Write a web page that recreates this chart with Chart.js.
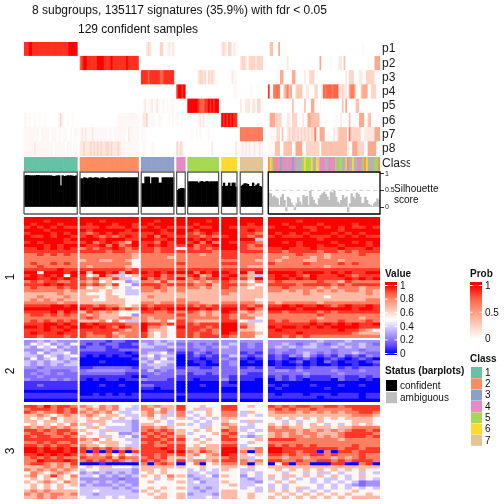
<!DOCTYPE html>
<html><head><meta charset="utf-8">
<style>html,body{margin:0;padding:0;background:#fff}canvas{display:block}</style>
<script src="https://cdn.jsdelivr.net/npm/chart.js@4"></script>
</head><body><canvas id="c" width="504" height="504"></canvas>
<script>
// ---------- data ----------
const titleLines = ["8 subgroups, 135117 signatures (35.9%) with fdr < 0.05", "129 confident samples"];
const panelSizes = [31,34,19,5,18,9,13,65];
const heatGroups = [8,9,5,1,5,2,3,16];
const probNames = ["p1","p2","p3","p4","p5","p6","p7","p8"];
const probLevels = [0,.04,.12,.22,.32,.45,.65,.75,.88,1];
const heatLevels = [0,.08,.18,.26,.37,.52,.68,.82,.93,1];
const classColors = ["#B3B3B3","#66C2A5","#FC8D62","#8DA0CB","#E78AC3","#A6D854","#FFD92F","#E5C494"];
const ambiguousClasses = "26542441444044340000565556006744400444450550072006004405260000552";
const probRows = [
"88899.88888.88888.88888.88888.89999.9 - 00023.20000.03300.1212 - - 232033021 - 04400.05000.00000.00000.00000.00000.00000.00000.00000.00000.00000.10000.00000",
"- 78998.88888.99998.88898.88888.88988.8888 - - - - 23320.33332.333 00000.00000.02000.00000.00000.00000.50000.01000.02204.00000.00000.00010.00555",
"- - 88887.88888.87788.8888 - 00000.02332.30323.210 000000211 - 00000.10550.00005.50000.02003.33000.00000.00000.00000.20333.00022.00333.33000",
"- - - 89989 - 000000011 0000001 80066.76004.56450.03434.00220.00330.02767.77677.72232.20566.50004.55500.33300",
"- - 01201.12012.10110.1011 - 99999.98777.88989.899 - 20022.20220.330 00000.00000.00004.00000.04000.55000.10000.00000.00040.50000.04400.00000.00000",
"11010.01001.00100.00000.13100.10010.0 00000.00000.00000.00000.00111.11111.1111 02230.11100.11000.0101 00010 00000.01212.01000.000 989898988 - 05553.33300.02203.33000.20055.44444.00010.00001.00200.00400.00055.50044.00000",
"11111.11110.11111.01110.11011.00101.1 12121.11211.11111.10110.11111.11021.1111 10100.00000.00000.0000 00000 00100.10100.00100.000 000000000 66666.66666.666 01110.33040.02323.32323.23232.32620.55500.00020.24444.40633.33330.02222.22555",
"11111.12111.11111.11011.11110.11101.1 22322.23232.32322.33232.22321.11111.1111 01100.01100.00000.0000 31320 00000.00000.00002.000 000000002 12121.21121.121 11104.44004.44440.05555.00333.33333.04444.44444.44444.42005.55333.30055.55500"
];
const silConfident = [
[.94,.95,.95,.94,.94,.94,.94,.95,.95,.94,.94,.94,.94,.94,.94,.94,.93,.92,.93,.94,.94,.64,.94,.92,.93,.94,.94,.94,.93,.92,.94],
[.85,.85,.88,.87,.85,.88,.88,.86,.88,.88,.87,.85,.88,.88,.86,.86,.88,.88,.87,.88,.88,.88,.87,.88,.88,.88,.88,.88,.88,.88,.88,.88,.88,.88],
[.7,.7,.9,.9,.9,.7,.88,.88,.88,.88,.72,.72,.88,.88,.88,.88,.88,.88,.88],
[.5,.54,.56,.56,.55],
[.76,.76,.76,.76,.76,.76,.72,.76,.77,.74,.76,.77,.75,.76,.76,.76,.76,.76],
[.62,.72,.62,.63,.72,.62,.72,.72,.6],
[.62,.66,.7,.7,.68,.62,.62,.72,.62,.66,.7,.62,.6]
];
const silAmbiguous = [.42,.4,.3,.33,.28,.25,.05,.3,.38,.2,-.12,.3,.25,.12,.05,-.08,.1,.28,.15,.05,.35,.3,.32,.05,.48,.3,.2,.1,.05,.25,.35,.4,.45,.38,.3,.2,.45,.42,.47,.3,.15,.1,.2,.35,.25,.3,-.15,.1,.4,.3,.25,.42,.38,.3,.1,.12,.3,.2,.08,.05,.02,.1,.15,.25,.2];
const silTicks = [0,0.5,1];
const heat1 = [
"99999999 999999999 99999 9 99999 99 999 9999999999999999",
"99989999 999899999 99899 9 99989 99 999 9999899999999999",
"98999899 989998998 98999 9 98999 99 989 9989999899998999",
"89898988 888988898 89898 8 89889 98 888 8998988989898898",
"99989999 989999989 99989 9 98999 99 898 9999998999899999",
"89998989 878989888 88988 9 87898 99 887 9898989998989899",
"98898998 898787898 89798 8 88787 89 878 8988898889898988",
"99999989 999899988 99889 9 98989 99 994 9999999899999999",
"89899988 897898769 88798 9 89797 98 887 9989899998998989",
"99989899 988979789 89898 8 97889 99 878 9999899899899989",
"88989898 787889878 88788 5 87878 99 877 8898889888988898",
"88888888 888878877 88788 8 88887 88 888 8878888788787888",
"77878787 777777776 77777 7 77677 88 777 7777877767777877",
"77777777 777777776 77776 7 77777 88 777 7767776767777777",
"77777777 677667765 77777 7 77777 77 776 7677766777677777",
"78778787 777777775 77777 8 77777 88 777 8777787777878777",
"77877777 767777765 77777 7 77777 77 766 7777777767777777",
"88888988 888888878 88888 8 88888 88 888 8888888888888888",
"99599989 969989698 98989 9 97989 98 969 9999899989898899",
"89898959 856976456 88978 7 89679 89 764 8989879888987888",
"99889898 878668645 97878 9 78788 98 869 8998989888898989",
"78788778 767565534 77686 7 76767 87 657 7877777877687777",
"88898988 878768553 88878 8 87786 88 765 8888788887878888",
"78777878 756656545 77876 7 77676 87 656 7787777676777677",
"77777767 666565544 77676 7 66666 77 666 7767676767677676",
"66666766 655565544 66666 6 66666 76 666 6666676666666676",
"66766676 666566555 67666 6 66666 66 666 6666666656666666",
"67676766 665566655 66666 7 66666 66 665 6666666666666677",
"77777677 666666655 77677 7 77666 77 776 7677777677777777",
"88889989 887877656 87888 8 87878 88 878 8898988987898898",
"99999999 989989787 98989 9 99898 99 897 9999899999998998",
"88889798 687676555 88778 7 87676 98 676 8878888787888888",
"78878787 767666553 77777 8 77676 87 766 7777777877777777",
"77777777 787666776 76777 7 77777 87 775 7777777677777677",
"78787878 666757544 76675 8 76666 88 544 8787778777877787",
"88899898 989888877 98878 8 87888 99 765 8888889898989889",
"99898989 998987987 97765 9 88878 99 865 9899898989999888",
"88898898 888888767 96665 8 88787 99 665 8988888888988765",
"89888988 878886777 86565 8 87887 98 776 8888988888887666",
"88788878 877787677 86565 8 87888 87 775 8878787777777777"
];
const heat2 = [
"33434333 222212211 33434 3 33333 33 333 3333333433343333",
"35453435 212122112 43443 2 23232 34 232 3343234323433432",
"43545343 122212111 44334 3 23323 43 232 3434344334343433",
"33343433 222211222 33332 2 22322 33 222 2332333332333233",
"43534453 111111101 34453 1 13212 33 121 2322343232334322",
"44354345 101010110 45344 0 12121 24 212 1213242121312132",
"35345343 000000001 34353 0 11011 32 101 1210121012101210",
"43434434 000100000 43544 0 01101 23 010 0101201021011012",
"43434344 000000000 34443 0 00100 23 000 0100101001001001",
"33233333 112222221 33433 1 22112 22 121 2111212222121222",
"22332223 233333322 24232 2 22222 22 222 2332322223222322",
"23232322 222222211 22322 2 12212 22 211 2222232222322222",
"22322222 111111110 12222 1 11111 21 111 1212121112211212",
"32223232 101011011 32221 1 10111 31 110 0212101110211010",
"11111111 000000000 11111 0 00000 10 000 0000000000000000",
"11211111 000100100 22111 0 00100 11 000 1010001000100100",
"11111111 000000000 11011 0 00000 00 000 0100000010000000",
"00000000 000000000 00000 0 00000 00 000 0000000000000000",
"11111111 001010101 11111 1 11111 11 111 1011101110111011",
"11111111 111111111 11111 0 11111 11 111 1111111011111011",
"00000000 000000000 00000 0 00000 00 000 0000000000000000"
];
const heat3 = [
"88797887 765767554 76766 8 55655 88 565 8787887788788888",
"78887878 676767544 77576 8 56465 88 555 7878778777778888",
"87677878 767675445 67674 7 45565 77 465 6777676767677887",
"66765676 676566544 67564 7 54565 77 454 6666666666667776",
"65657566 565665654 56545 6 45454 66 555 5656565656566665",
"66566566 566654443 55654 5 54545 65 464 5545455655556665",
"56565657 645655543 66554 6 45445 76 545 6565656545456565",
"76767676 566544443 77676 5 55465 67 445 7676656665667777",
"88787887 655464443 78787 6 56565 87 454 7777676767678878",
"78877878 565455334 87878 6 45556 78 545 6767677666788887",
"87887787 655645453 78787 7 55455 87 434 6767767676788878",
"88888888 767565544 88878 8 56565 88 556 8888777777677777",
"77878778 665666554 78787 7 55655 77 565 7777777777777777",
"88787887 766566544 88778 8 56566 88 455 8787878777778777",
"99898989 878787676 88898 8 66766 99 667 9988888888788788",
"99899989 808080808 88889 9 76876 99 707 9988788070887888",
"88989898 767675754 88787 8 67567 98 656 8878778878777877",
"78787877 877786877 78786 6 65566 78 645 7767767776767877",
"77988898 787878767 87876 8 67767 88 767 8877877887878887",
"78876768 000100000 70787 0 57056 77 706 0580770008800780",
"66676767 565665554 66666 6 55655 66 565 6666666666666666",
"76767676 455444443 66565 5 45454 65 445 5656565656565655",
"57656765 343434343 56565 5 44544 55 454 5545545445455454",
"67568657 445343434 65657 6 34453 65 354 6566565656545655",
"56565656 333333233 55456 5 43444 55 434 4545454544545454",
"65676576 434343433 56555 6 45344 65 443 5656554545454233",
"56565656 343334343 55555 5 44444 56 445 4545555454543233",
"56565655 444443434 56565 6 43434 55 454 4545645454545454",
"67676666 445444443 65655 5 44344 66 554 6565454545556555",
"76767767 443444444 56565 6 34443 66 565 5656565656565565",
"66767666 544454544 55665 6 44454 66 565 6565656565656666"
];
const valueTicks = ["1","0.8","0.6","0.4","0.2","0"];
const probTicks = ["1","0.5","0"];
const classNames = ["1","2","3","4","5","6","7"];
const statusNames = ["confident","ambiguous"];
const rowNames = ["1","2","3"];

// ---------- styles and layout ----------
const FONT = '"Liberation Sans", Arial, sans-serif';
const gapUnits = [1.6,1.6,1.6,1.4,1.7,1.9,3.3];
const valueStops = [[0,"#0000FF"],[.125,"#6A4DFF"],[.25,"#A08CFF"],[.375,"#D2C6FF"],[.5,"#FFFFFF"],[.625,"#FFCFBF"],[.75,"#FF9E81"],[.875,"#FF6447"],[1,"#FF0000"]];
const probStops = [[0,"#FFFFFF"],[.25,"#FFCFBF"],[.5,"#FF9E81"],[.75,"#FF6447"],[1,"#FF0000"]];
const TRACK = {prob:114,g1:1,cls:14,g2:1,sil:42,g3:3,h1:121,g4:2,h2:62,g5:3,h3:94};
const PLOT_WIDTH = 356;
const hex = h => [1,3,5].map(i => parseInt(h.substr(i,2),16));
function ramp(stops,t){
  for(let i=1;i<stops.length;i++){
    if(t<=stops[i][0]){
      const a=stops[i-1],b=stops[i],f=(t-a[0])/(b[0]-a[0]),A=hex(a[1]),B=hex(b[1]);
      return "rgb("+A.map((v,k)=>Math.round(v+(B[k]-v)*f)).join(",")+")";
    }
  }
  return stops[stops.length-1][1];
}
const panelStart=[];let cursor=0;
panelSizes.forEach((s,i)=>{panelStart.push(cursor);cursor+=s+(gapUnits[i]||0);});
const xTotal=panelStart[7]+panelSizes[7];

function segments(row,sizes,padLast){
  return row.split(" ").map((seg,i)=>{
    let s=seg==="-"?"":seg.replace(/\./g,"");
    const pad=padLast&&s.length?s[s.length-1]:"0";
    return s.padEnd(sizes[i],pad).slice(0,sizes[i]);
  });
}
const probData=[],probColors=[];
probRows.forEach((row,r)=>{
  segments(row,panelSizes,false).forEach((seg,p)=>{
    [...seg].forEach((d,i)=>{
      probData.push({x:[panelStart[p]+i,panelStart[p]+i+1],y:probNames[r]});
      probColors.push(ramp(probStops,probLevels[+d]));
    });
  });
});
const classData=[],classBarColors=[];
panelSizes.forEach((n,p)=>{
  for(let i=0;i<n;i++){
    classData.push({x:[panelStart[p]+i,panelStart[p]+i+1],y:"Class"});
    classBarColors.push(classColors[p<7?p+1:+ambiguousClasses[i]]);
  }
});
const cellBar=(thick)=>({type:"bar",indexAxis:"y",xAxisID:"x",grouped:false,barThickness:thick,borderWidth:0,order:3});
function heatDataset(rows,axis,px){
  const data=[],colors=[];
  rows.forEach((row,r)=>{
    segments(row,heatGroups,true).forEach((seg,p)=>{
      const w=panelSizes[p]/heatGroups[p];
      [...seg].forEach((d,i)=>{
        data.push({x:[panelStart[p]+i*w,panelStart[p]+(i+1)*w],y:"r"+r});
        colors.push(ramp(valueStops,heatLevels[+d]));
      });
    });
  });
  return {...cellBar(px/rows.length),yAxisID:axis,data,backgroundColor:colors};
}
const silData=[],silColors=[];
silConfident.concat([silAmbiguous]).forEach((vals,p)=>{
  vals.forEach((v,i)=>{
    silData.push({x:panelStart[p]+i+.5,y:v});
    silColors.push(p<7?"#000000":"#BEBEBE");
  });
});
const SIL_MIN=-0.21,SIL_MAX=1.05;
const frames=panelSizes.map((n,p)=>({
  type:"line",xAxisID:"xs",yAxisID:"ySil",order:0,pointRadius:0,tension:0,
  borderWidth:1.3,borderColor:p<7?"#5A5A5A":"#000000",fill:false,clip:3,
  data:[{x:panelStart[p],y:SIL_MIN},{x:panelStart[p]+n,y:SIL_MIN},{x:panelStart[p]+n,y:SIL_MAX},{x:panelStart[p],y:SIL_MAX},{x:panelStart[p],y:SIL_MIN}]
}));
const dashLine={type:"line",xAxisID:"xs",yAxisID:"ySil",order:2,pointRadius:0,borderWidth:1,borderColor:"#CFCFCF",borderDash:[4,3],
  data:[{x:panelStart[7],y:.5},{x:panelStart[7]+panelSizes[7],y:.5}]};

const hidden={display:false};
const spacer=w=>({type:"linear",display:false,position:"right",stack:"tracks",stackWeight:w,min:0,max:1});
const labels=n=>Array.from({length:n},(_,i)=>"r"+i);
const forceWidth=s=>{s.width=30;s.paddingTop=0;s.paddingBottom=0;};
const heatScale=(n,w)=>({type:"category",labels:labels(n),offset:true,display:false,position:"right",stack:"tracks",stackWeight:w});
const textScale=(lab,w)=>({type:"category",labels:lab,offset:true,position:"right",stack:"tracks",stackWeight:w,afterFit:forceWidth,
  grid:{display:false,drawTicks:false},border:{display:false},
  ticks:{padding:2,autoSkip:false,color:"#1a1a1a",font:{family:FONT,size:12}}});

const legendPlugin={id:"legends",afterDraw(chart){
  const g=chart.ctx;g.save();
  const text=(s,x,y,size,bold,base)=>{g.font=(bold?"bold ":"")+size+"px "+FONT;g.fillStyle="#111";g.textAlign="left";g.textBaseline=base||"alphabetic";g.fillText(s,x,y);};
  text(titleLines[0],32,14,12);
  text(titleLines[1],78,33,12);
  const rowY=[277,371,451];
  rowNames.forEach((s,i)=>{g.save();g.translate(14,rowY[i]);g.rotate(-Math.PI/2);g.font="12px "+FONT;g.fillStyle="#111";g.textAlign="center";g.textBaseline="alphabetic";g.fillText(s,0,0);g.restore();});
  text("Silhouette",394,192,10);
  text("score",394,203,10);
  function bar(x,y0,y1,yT,yB,stops,ticks){
    const gr=g.createLinearGradient(0,yB,0,yT);
    stops.forEach(([t,c])=>gr.addColorStop(t,c));
    g.fillStyle=stops[stops.length-1][1];g.fillRect(x,y0,12,yT-y0);
    g.fillStyle=stops[0][1];g.fillRect(x,yB,12,y1-yB);
    g.fillStyle=gr;g.fillRect(x,yT,12,yB-yT);
    ticks.forEach((s,i)=>{
      const y=yT+(yB-yT)*i/(ticks.length-1);
      g.fillStyle="#fff";g.fillRect(x,y-.5,2.5,1);g.fillRect(x+9.5,y-.5,2.5,1);
      text(s,x+15,y+.5,10,false,"middle");
    });
  }
  text("Value",385,277,10,true);
  bar(385,282,355,285.5,353.5,valueStops,valueTicks);
  text("Prob",470,277,10,true);
  bar(470,282,339,285.5,339,probStops,probTicks);
  text("Class",470,362,10,true);
  classNames.forEach((s,i)=>{
    const y=367+i*11.3;
    g.fillStyle=classColors[i+1];g.fillRect(471,y,11,11);
    text(s,485,y+6,10,false,"middle");
  });
  text("Status (barplots)",385,374,10,true);
  statusNames.forEach((s,i)=>{
    const y=380+i*12.2;
    g.fillStyle=i?"#BEBEBE":"#000000";g.fillRect(386,y,11,11);
    text(s,400,y+6,10,false,"middle");
  });
  g.restore();
}};

new Chart(document.getElementById("c"),{
  type:"bar",
  data:{datasets:[
    {...cellBar(TRACK.prob/probNames.length),yAxisID:"yProb",data:probData,backgroundColor:probColors},
    {...cellBar(TRACK.cls),yAxisID:"yClass",data:classData,backgroundColor:classBarColors},
    {type:"bar",indexAxis:"x",xAxisID:"xs",yAxisID:"ySil",grouped:false,data:silData,backgroundColor:silColors,barThickness:PLOT_WIDTH/xTotal,borderWidth:0,order:1},
    dashLine,...frames,
    heatDataset(heat1,"yH1",TRACK.h1),heatDataset(heat2,"yH2",TRACK.h2),heatDataset(heat3,"yH3",TRACK.h3)
  ]},
  options:{
    responsive:false,animation:false,events:[],
    layout:{padding:{left:24,right:94,top:42,bottom:5}},
    plugins:{legend:hidden,title:hidden,tooltip:{enabled:false}},
    scales:{
      x:{type:"linear",min:0,max:xTotal,offset:false,display:false},
      xs:{type:"linear",axis:"x",min:0,max:xTotal,offset:false,display:false},
      yProb:textScale(probNames,TRACK.prob),
      yg1:spacer(TRACK.g1),
      yClass:textScale(["Class"],TRACK.cls),
      yg2:spacer(TRACK.g2),
      ySil:{type:"linear",min:SIL_MIN,max:SIL_MAX,position:"right",stack:"tracks",stackWeight:TRACK.sil,afterFit:forceWidth,
        afterBuildTicks:s=>{s.ticks=silTicks.map(v=>({value:v}));},
        grid:{display:true,drawOnChartArea:false,drawTicks:true,tickLength:4,color:"#333",lineWidth:1},border:{display:false},
        ticks:{padding:1,autoSkip:false,color:"#222",font:{family:FONT,size:7},callback:v=>String(v)}},
      yg3:spacer(TRACK.g3),
      yH1:heatScale(heat1.length,TRACK.h1),
      yg4:spacer(TRACK.g4),
      yH2:heatScale(heat2.length,TRACK.h2),
      yg5:spacer(TRACK.g5),
      yH3:heatScale(heat3.length,TRACK.h3)
    }
  },
  plugins:[legendPlugin]
});
</script></body></html>
